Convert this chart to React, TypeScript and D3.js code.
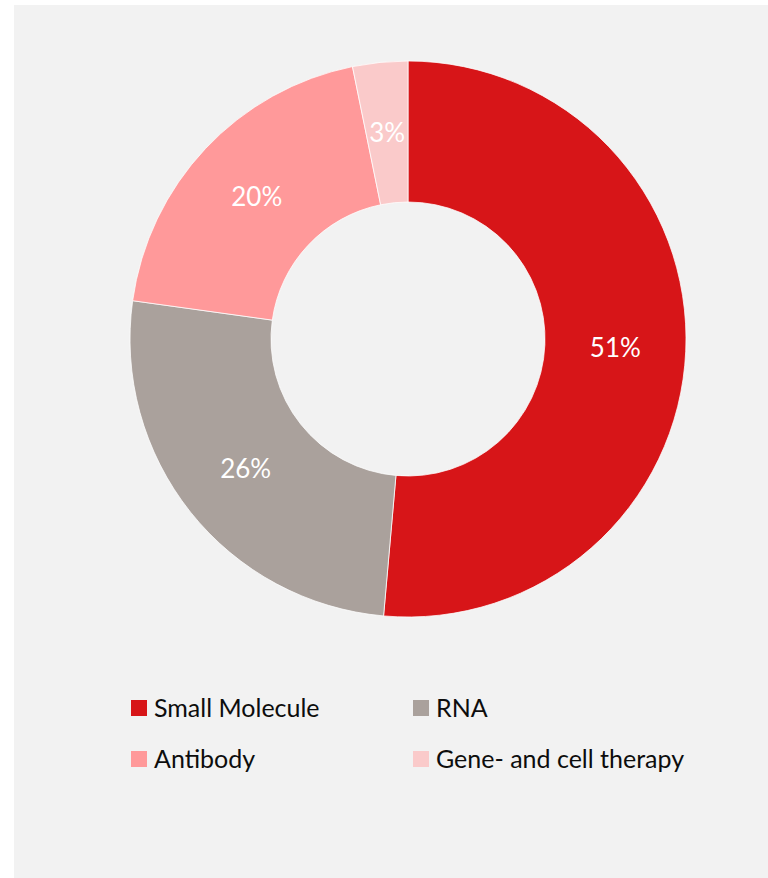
import React from "react";
import * as d3 from "d3";

const categories = ["Small Molecule", "RNA", "Antibody", "Gene- and cell therapy"];
const shares = [51.4, 25.8, 19.6, 3.2];
const labels = ["51%", "26%", "20%", "3%"];
const colors = ["#d71518", "#aaa19c", "#ff999a", "#facaca"];

const W = 768;
const H = 878;
const cx = 408;
const cy = 339;
const outerR = 278;
const innerR = 137;
const FONT = "Lato, 'Open Sans', sans-serif";

export default function App() {
  const pie = d3.pie<number>().sort(null).value((d) => d)(shares);
  const arc = d3.arc<d3.PieArcDatum<number>>().innerRadius(innerR).outerRadius(outerR);
  const legendX = d3.scaleOrdinal<number, number>().domain([0, 1]).range([131, 413]);
  const legendY = d3.scaleOrdinal<number, number>().domain([0, 1]).range([708, 759]);
  return (
    <div style={{ position: "absolute", left: 0, top: 0 }}>
      <svg width={W} height={H} style={{ display: "block" }}>
        <rect x={14} y={5} width={W - 14} height={H - 5} fill="#f2f2f2" />
        <g transform={`translate(${cx},${cy})`}>
          {pie.map((p, i) => (
            <path key={i} d={arc(p) || ""} fill={colors[i]} stroke="#ffffff" strokeWidth={0.75} />
          ))}
          {pie.map((p, i) => {
            const [x, y] = arc.centroid(p);
            return (
              <text key={i} x={x} y={y} dy="0.36em" textAnchor="middle" fill="#ffffff"
                fontFamily={FONT} fontSize={26}>
                {labels[i]}
              </text>
            );
          })}
        </g>
        {categories.map((c, i) => {
          const col = i % 2;
          const row = Math.floor(i / 2);
          const x = legendX(col);
          const y = legendY(row);
          return (
            <g key={c}>
              <rect x={x} y={y - 8} width={16} height={16} fill={colors[i]} />
              <text x={x + 23} y={y} dy="0.36em" fontFamily={FONT} fontSize={25} fill="#0d0d0d">
                {c}
              </text>
            </g>
          );
        })}
      </svg>
    </div>
  );
}
